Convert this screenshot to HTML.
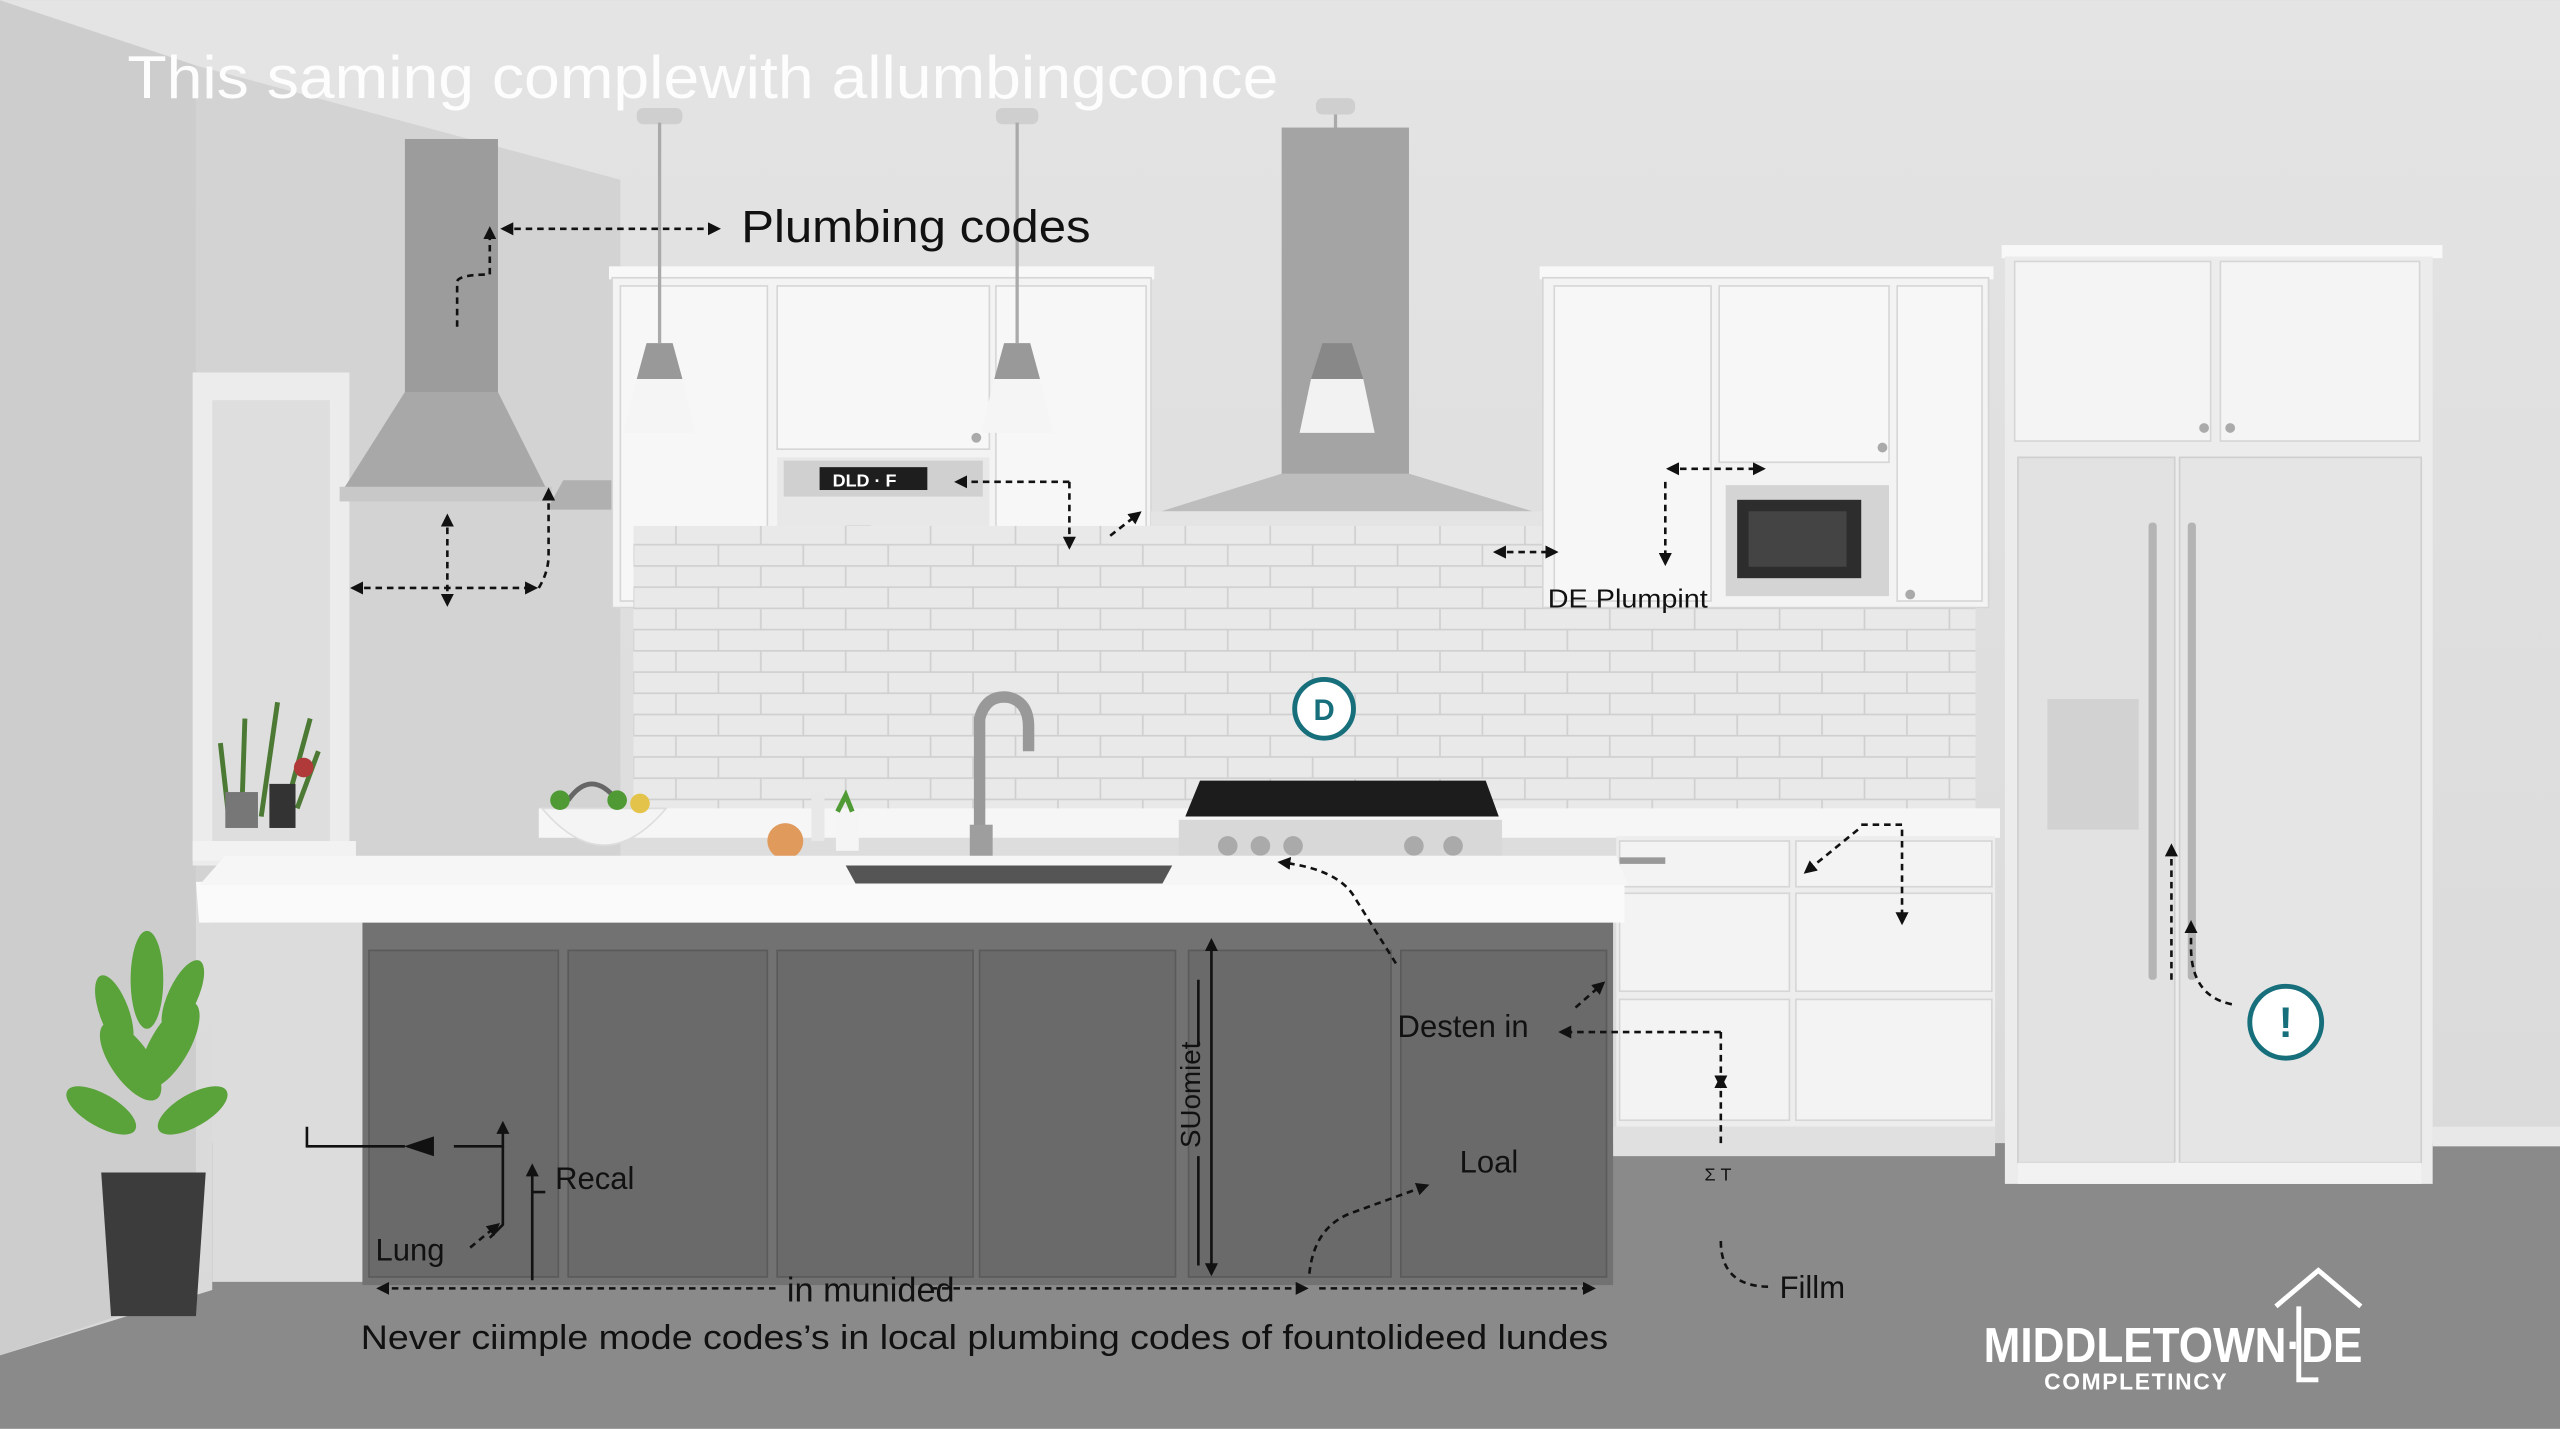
<!DOCTYPE html>
<html><head><meta charset="utf-8"><style>
html,body{margin:0;padding:0;width:2560px;height:1429px;overflow:hidden;background:#dcdcdc}
svg{display:block}
text{font-family:"Liberation Sans",sans-serif}
</style></head><body>
<svg width="2560" height="1429" viewBox="0 0 1568 875" xmlns="http://www.w3.org/2000/svg">
<defs>
<linearGradient id="bg" x1="0" y1="0" x2="0" y2="1"><stop offset="0" stop-color="#e4e4e4"/><stop offset="1" stop-color="#d8d8d8"/></linearGradient>
<pattern id="tile" width="52" height="26" patternUnits="userSpaceOnUse" x="388" y="372">
<rect width="52" height="26" fill="#e9e9e9"/>
<path d="M0 0.5H52M0 13.5H52M26 0V13M0 13V26M52 13V26" stroke="#cfcfcf" stroke-width="1"/>
</pattern>
<marker id="ah" viewBox="0 0 10 10" refX="8" refY="5" markerWidth="5" markerHeight="5" orient="auto-start-reverse"><path d="M0 0L10 5L0 10z" fill="#111"/></marker>
</defs>
<rect width="1568" height="875" fill="url(#bg)"/>
<polygon points="0,0 120,40 120,790 0,830" fill="#cdcdcd"/>
<polygon points="120,40 380,110 380,540 120,540" fill="#d3d3d3"/>
<polygon points="0,830 130,790 130,700 1568,700 1568,875 0,875" fill="#8a8a8a"/>
<rect x="1490" y="690" width="78" height="12" fill="#e8e8e8"/>
<rect x="118" y="228" width="96" height="302" fill="#ececec"/>
<rect x="130" y="245" width="72" height="270" fill="#dedede"/>
<rect x="118" y="515" width="100" height="12" fill="#f2f2f2"/>
<g stroke="#4c7a34" stroke-width="3" fill="none">
<path d="M140 500 L135 455 M148 500 L150 440 M160 500 L170 430 M175 495 L190 440 M182 495 L195 460"/></g>
<circle cx="186" cy="470" r="6" fill="#b03a3a"/>
<rect x="138" y="485" width="20" height="22" fill="#777"/><rect x="165" y="480" width="16" height="27" fill="#333"/>
<rect x="248" y="85" width="57" height="155" fill="#9c9c9c"/>
<polygon points="248,240 305,240 335,300 210,300" fill="#a8a8a8"/>
<rect x="208" y="298" width="130" height="9" fill="#c8c8c8"/>
<polygon points="345,294 445,294 455,312 335,312" fill="#b0b0b0"/>
<rect x="373" y="163" width="334" height="8" fill="#f8f8f8"/>
<rect x="375" y="170" width="330" height="202" fill="#f3f3f3" stroke="#d6d6d6"/>
<rect x="380" y="175" width="90" height="193" fill="#f7f7f7" stroke="#d6d6d6"/>
<rect x="476" y="175" width="130" height="100" fill="#f7f7f7" stroke="#d6d6d6"/>
<rect x="610" y="175" width="92" height="193" fill="#f7f7f7" stroke="#d6d6d6"/>
<rect x="476" y="280" width="130" height="90" fill="#e8e8e8"/>
<rect x="480" y="282" width="122" height="22" fill="#d0d0d0"/>
<rect x="502" y="286" width="66" height="14" fill="#1e1e1e"/>
<text x="510" y="298" font-size="11" fill="#fff" font-weight="bold">DLD · F</text>
<rect x="514" y="322" width="24" height="46" rx="5" fill="#6f6f6f"/><rect x="538" y="330" width="22" height="38" rx="5" fill="#f6f6f6"/>
<rect x="485" y="368" width="120" height="6" fill="#555"/>
<circle cx="467" cy="364" r="3" fill="#aaa"/><circle cx="616" cy="364" r="3" fill="#aaa"/><circle cx="598" cy="268" r="3" fill="#aaa"/>
<g fill="#cfcfcf"><rect x="390" y="66" width="28" height="10" rx="4"/><rect x="610" y="66" width="26" height="10" rx="4"/><rect x="806" y="60" width="24" height="10" rx="4"/></g>
<g stroke="#aaa" stroke-width="2"><line x1="404" y1="75" x2="404" y2="210"/><line x1="623" y1="75" x2="623" y2="210"/><line x1="818" y1="70" x2="818" y2="210"/></g>
<polygon points="396,210 412,210 418,232 390,232" fill="#999"/><polygon points="390,232 418,232 426,265 382,265" fill="#f5f5f5"/>
<polygon points="615,210 631,210 637,232 609,232" fill="#999"/><polygon points="609,232 637,232 645,265 601,265" fill="#f5f5f5"/>
<rect x="785" y="78" width="78" height="222" fill="#a4a4a4"/>
<polygon points="810,210 828,210 835,232 803,232" fill="#888"/><polygon points="803,232 835,232 842,265 796,265" fill="#f2f2f2"/>
<polygon points="785,290 863,290 945,315 705,315" fill="#bdbdbd"/>
<rect x="705" y="313" width="240" height="9" fill="#e4e4e4"/>
<rect x="388" y="322" width="822" height="176" fill="url(#tile)"/>
<rect x="388" y="372" width="822" height="126" fill="url(#tile)"/>
<rect x="943" y="163" width="278" height="8" fill="#f8f8f8"/>
<rect x="945" y="170" width="273" height="202" fill="#f3f3f3" stroke="#d6d6d6"/>
<rect x="952" y="175" width="96" height="193" fill="#f7f7f7" stroke="#d6d6d6"/>
<rect x="1053" y="175" width="104" height="108" fill="#f7f7f7" stroke="#d6d6d6"/>
<rect x="1162" y="175" width="52" height="193" fill="#f7f7f7" stroke="#d6d6d6"/>
<rect x="1057" y="297" width="100" height="68" fill="#d4d4d4"/>
<rect x="1064" y="306" width="76" height="48" fill="#2d2d2d"/><rect x="1071" y="313" width="60" height="34" fill="#444"/>
<circle cx="1153" cy="274" r="3" fill="#aaa"/><circle cx="1170" cy="364" r="3" fill="#aaa"/>
<rect x="1226" y="150" width="270" height="8" fill="#f8f8f8"/>
<rect x="1228" y="157" width="262" height="568" fill="#ececec"/>
<rect x="1234" y="160" width="120" height="110" fill="#f4f4f4" stroke="#d6d6d6"/>
<rect x="1360" y="160" width="122" height="110" fill="#f4f4f4" stroke="#d6d6d6"/>
<circle cx="1350" cy="262" r="3" fill="#aaa"/><circle cx="1366" cy="262" r="3" fill="#aaa"/>
<rect x="1236" y="280" width="96" height="432" fill="#e2e2e2" stroke="#cfcfcf"/>
<rect x="1335" y="280" width="148" height="432" fill="#e5e5e5" stroke="#cfcfcf"/>
<rect x="1254" y="428" width="56" height="80" fill="#d2d2d2"/>
<rect x="1316" y="320" width="5" height="280" rx="2" fill="#b4b4b4"/><rect x="1340" y="320" width="5" height="280" rx="2" fill="#b4b4b4"/>
<rect x="1236" y="712" width="247" height="13" fill="#f2f2f2"/>
<rect x="330" y="495" width="895" height="18" fill="#f6f6f6"/>
<rect x="990" y="512" width="232" height="178" fill="#ededed"/>
<rect x="992" y="515" width="104" height="28" fill="#f3f3f3" stroke="#d6d6d6"/><rect x="1100" y="515" width="120" height="28" fill="#f3f3f3" stroke="#d6d6d6"/>
<rect x="992" y="547" width="104" height="60" fill="#f3f3f3" stroke="#d6d6d6"/><rect x="1100" y="547" width="120" height="60" fill="#f3f3f3" stroke="#d6d6d6"/>
<rect x="992" y="612" width="104" height="74" fill="#f3f3f3" stroke="#d6d6d6"/><rect x="1100" y="612" width="120" height="74" fill="#f3f3f3" stroke="#d6d6d6"/>
<rect x="992" y="525" width="28" height="4" fill="#999"/>
<rect x="988" y="690" width="234" height="18" fill="#e0e0e0"/>
<polygon points="735,478 910,478 918,500 726,500" fill="#1c1c1c"/>
<rect x="722" y="502" width="198" height="22" fill="#d8d8d8"/>
<g fill="#aaa"><circle cx="752" cy="518" r="6"/><circle cx="772" cy="518" r="6"/><circle cx="792" cy="518" r="6"/><circle cx="866" cy="518" r="6"/><circle cx="890" cy="518" r="6"/></g>
<path d="M332 495 Q370 540 408 495Z" fill="#f4f4f4" stroke="#ddd"/>
<path d="M348 490 Q362 470 378 490" stroke="#666" stroke-width="3" fill="none"/>
<g fill="#4f9a34"><circle cx="343" cy="490" r="6"/><circle cx="378" cy="490" r="6"/></g><circle cx="392" cy="492" r="6" fill="#e3c34a"/>
<circle cx="481" cy="515" r="11" fill="#e09a5c"/>
<rect x="497" y="485" width="8" height="30" fill="#e8e8e8"/><rect x="512" y="497" width="14" height="24" fill="#f5f5f5"/>
<path d="M513 497 L518 487 L522 497" stroke="#4f9a34" stroke-width="3" fill="none"/>
<path d="M600 540 V440 Q604 425 618 427 Q630 430 630 445 V460" stroke="#999" stroke-width="7" fill="none"/>
<rect x="594" y="505" width="14" height="38" fill="#9e9e9e"/>
<polygon points="120,540 995,540 995,565 122,565" fill="#fafafa"/>
<polygon points="138,524 990,524 997,542 122,542" fill="#f6f6f6"/>
<polygon points="518,530 718,530 712,541 524,541" fill="#555"/>
<rect x="130" y="565" width="92" height="220" fill="#dcdcdc"/>
<rect x="222" y="565" width="766" height="222" fill="#727272"/>
<g fill="#6a6a6a" stroke="#5a5a5a">
<rect x="226" y="582" width="116" height="200"/><rect x="348" y="582" width="122" height="200"/>
<rect x="476" y="582" width="120" height="200"/><rect x="600" y="582" width="120" height="200"/>
<rect x="728" y="582" width="124" height="200"/><rect x="858" y="582" width="126" height="200"/></g>
<g fill="#5aa23a"><ellipse cx="80" cy="650" rx="12" ry="28" transform="rotate(-35 80 650)"/><ellipse cx="104" cy="640" rx="12" ry="30" transform="rotate(30 104 640)"/><ellipse cx="90" cy="600" rx="10" ry="30"/><ellipse cx="62" cy="680" rx="10" ry="24" transform="rotate(-60 62 680)"/><ellipse cx="118" cy="680" rx="10" ry="24" transform="rotate(60 118 680)"/><ellipse cx="70" cy="620" rx="9" ry="24" transform="rotate(-20 70 620)"/><ellipse cx="112" cy="610" rx="9" ry="24" transform="rotate(25 112 610)"/></g>
<polygon points="62,718 126,718 120,806 68,806" fill="#3c3c3c"/>
<circle cx="811" cy="434" r="18" fill="#fff" stroke="#176f7c" stroke-width="3"/>
<text x="811" y="441" text-anchor="middle" font-size="18" font-weight="bold" fill="#176f7c">D</text>
<circle cx="1400" cy="626" r="22" fill="#fff" stroke="#176f7c" stroke-width="3"/>
<text x="1400" y="635" text-anchor="middle" font-size="26" font-weight="bold" fill="#176f7c">!</text>
<g stroke="#111" stroke-width="1.6" stroke-dasharray="4 3" fill="none" marker-end="url(#ah)">
<path d="M308 140 H440" marker-start="url(#ah)"/>
<path d="M280 200 V172 Q282 168 300 168 V140"/>
<path d="M216 360 H328" marker-start="url(#ah)"/>
<path d="M274 316 V370" marker-start="url(#ah)"/>
<path d="M330 360 Q336 350 336 340 V300"/>
<path d="M655 295 H586"/>
<path d="M655 295 V335"/>
<path d="M680 328 L698 314"/>
<path d="M916 338 H953" marker-start="url(#ah)"/>
<path d="M1022 287 H1080" marker-start="url(#ah)"/>
<path d="M1020 295 V345"/>
<path d="M1140 505 H1165 V565"/>
<path d="M1138 508 L1106 534"/>
<path d="M855 590 L830 550 Q820 532 784 528"/>
<path d="M1367 615 Q1342 610 1342 580 V565"/>
<path d="M1330 600 V518"/>
<path d="M1054 632 H956"/>
<path d="M1054 632 V665"/>
<path d="M1054 700 V660"/>
<path d="M965 617 L982 602"/>
<path d="M475 789 H232 "/>
<path d="M570 789 H800"/>
<path d="M808 789 H976"/>
<path d="M802 780 Q805 750 830 742 L874 726"/>
<path d="M1054 760 Q1054 788 1084 788" marker-end="none"/>
<path d="M288 764 L305 750"/>
</g>
<g stroke="#111" stroke-width="1.6" fill="none">
<path d="M188 690 V702 H248"/><path d="M278 702 H308 V688" marker-end="url(#ah)"/><path d="M308 702 V750 L300 758"/>
<path d="M326 714 V784" marker-start="url(#ah)"/><path d="M326 730 H334"/>
<path d="M742 576 V780" marker-start="url(#ah)" marker-end="url(#ah)"/><path d="M734 600 V640"/><path d="M734 708 V775"/>
<path d="M250 702 L265 697 V707Z" fill="#111"/>
</g>
<text x="78" y="60" font-size="37" fill="#fdfdfd" textLength="705" lengthAdjust="spacingAndGlyphs">This saming complewith allumbingconce</text>
<text x="454" y="148" font-size="28" fill="#111" textLength="214" lengthAdjust="spacingAndGlyphs">Plumbing codes</text>
<text x="948" y="372" font-size="16" fill="#111" textLength="98" lengthAdjust="spacingAndGlyphs">DE Plumpint</text>
<text x="856" y="635" font-size="19" fill="#111">Desten in</text>
<text x="340" y="728" font-size="19" fill="#111">Recal</text>
<text x="230" y="772" font-size="19" fill="#111">Lung</text>
<text x="894" y="718" font-size="19" fill="#111">Loal</text>
<text x="1090" y="795" font-size="19" fill="#111">Fillm</text>
<text x="1044" y="723" font-size="11" fill="#111">Σ T</text>
<text x="482" y="797" font-size="21" fill="#111">in  munided</text>
<text x="735" y="703" font-size="17" fill="#111" transform="rotate(-90 735 703)">SUomiet</text>
<text x="221" y="826" font-size="21" fill="#111" textLength="764" lengthAdjust="spacingAndGlyphs">Never ciimple mode codes’s in local plumbing codes of fountolideed lundes</text>
<path d="M1394 800 L1420 778 L1446 800" stroke="#fff" stroke-width="3" fill="none"/>
<path d="M1408 800 V845 H1420" stroke="#fff" stroke-width="3" fill="none"/>
<text x="1215" y="834" font-size="30" font-weight="bold" fill="#fff" textLength="232" lengthAdjust="spacingAndGlyphs">MIDDLETOWN·DE</text>
<text x="1252" y="851" font-size="14" font-weight="bold" fill="#fff" letter-spacing="1">COMPLETINCY</text>
</svg>
</body></html>
